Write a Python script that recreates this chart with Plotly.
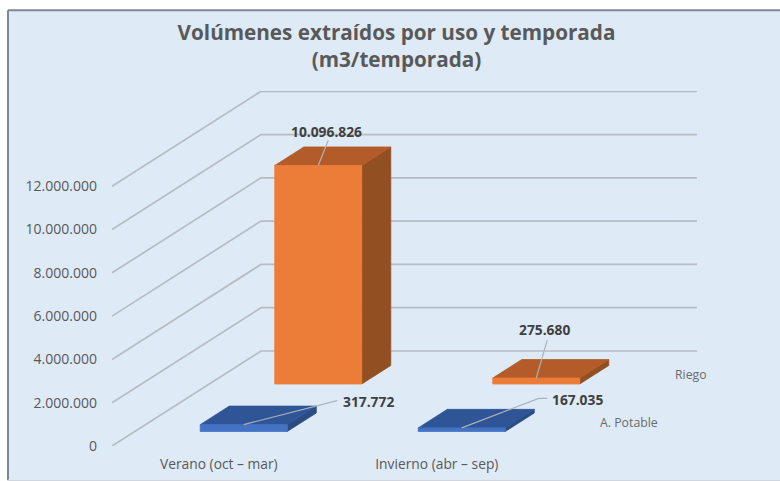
import plotly.graph_objects as go

# ---------- data ----------
categories = ["Verano (oct – mar)", "Invierno (abr – sep)"]
series_names = ["A. Potable", "Riego"]
potable_values = [317772, 167035]
riego_values = [10096826, 275680]
tick_values = [0, 2000000, 4000000, 6000000, 8000000, 10000000, 12000000]
tick_labels = ["0", "2.000.000", "4.000.000", "6.000.000", "8.000.000", "10.000.000", "12.000.000"]
value_labels_potable = ["317.772", "167.035"]
value_labels_riego = ["10.096.826", "275.680"]

# ---------- geometry / style ----------
W, H = 780, 481
PL, PR, PT, PB = 112, 697, 90.7, 445.7   # plot rectangle in pixels
CAT_PX = 218.0
PX_PER_VALUE = 259.7 / 12000000
DEPTH_PX_X, DEPTH_PX_Y = 149.0, 95.0
DEPTH_X = DEPTH_PX_X / CAT_PX
DEPTH_Y = DEPTH_PX_Y / PX_PER_VALUE
BAR_W = 87 / CAT_PX
BAR_D = 0.195
SERIES_CENTER = [0.25, 0.75]
BG = "#DEEAF6"
GRID = "#B6BDC2"
FACE = {"A. Potable": ("#4472C4", "#2F5597", "#2B4C82"),
        "Riego": ("#EB7D39", "#B45C29", "#925022")}


def proj(cat_x, depth, value):
    return cat_x + DEPTH_X * depth, value + DEPTH_Y * depth


def dx(px):
    return px / CAT_PX


def dy(px):
    return px / PX_PER_VALUE


fig = go.Figure()


def line(xs, ys, color=GRID, width=1.7):
    fig.add_trace(go.Scatter(x=xs, y=ys, mode="lines", hoverinfo="skip", showlegend=False,
                             line=dict(color=color, width=width)))


# gridlines: side wall and back wall
gx, gy = [], []
n_cats = len(categories)
for v in tick_values:
    x1, y1 = proj(0, 0, v)
    x2, y2 = proj(0, 1, v)
    x3, y3 = proj(n_cats, 1, v)
    gx += [x1, x2, x3, None]
    gy += [y1, y2, y3, None]
line(gx, gy)


def face(pts, color, edge=None):
    xs = [p[0] for p in pts] + [pts[0][0]]
    ys = [p[1] for p in pts] + [pts[0][1]]
    fig.add_trace(go.Scatter(x=xs, y=ys, mode="lines", fill="toself", fillcolor=color, hoverinfo="skip",
                             showlegend=False, line=dict(color=edge or color, width=0.8)))


def bar(cat, depth_c, value, colors):
    x0 = cat + 0.5 - BAR_W / 2
    x1 = x0 + BAR_W
    d0 = depth_c - BAR_D / 2
    d1 = depth_c + BAR_D / 2
    front, top, side = colors
    face([proj(x1, d0, 0), proj(x1, d1, 0), proj(x1, d1, value), proj(x1, d0, value)], side)
    face([proj(x0, d0, value), proj(x1, d0, value), proj(x1, d1, value), proj(x0, d1, value)], top)
    face([proj(x0, d0, 0), proj(x1, d0, 0), proj(x1, d0, value), proj(x0, d0, value)], front)


# back series first
for i, v in enumerate(riego_values):
    bar(i, SERIES_CENTER[1], v, FACE["Riego"])
for i, v in enumerate(potable_values):
    bar(i, SERIES_CENTER[0], v, FACE["A. Potable"])

annotations = []
LABEL_FONT = dict(family="Open Sans", size=13.8, color="#404040")


def anchor(i, s, value):
    return proj(i + 0.5, SERIES_CENTER[s] - BAR_D / 2, value)


def data_label(i, s, value, text, leader_px, text_px, xanchor):
    ax, ay = anchor(i, s, value)
    xs, ys = [ax], [ay]
    for px, py in leader_px:
        xs.append(ax + dx(px))
        ys.append(ay + dy(py))
    line(xs, ys, color="#ACB3B8", width=1.2)
    annotations.append(dict(x=ax + dx(text_px[0]), y=ay + dy(text_px[1]), xref="x", yref="y", text="<b>%s</b>" % text,
                            showarrow=False, xanchor=xanchor, yanchor="middle", font=LABEL_FONT))


data_label(0, 1, riego_values[0], value_labels_riego[0], [(10, 25)], (8.5, 34), "center")
data_label(1, 1, riego_values[1], value_labels_riego[1], [(11, 38)], (8.5, 49), "center")
data_label(0, 0, potable_values[0], value_labels_potable[0], [(72, 19), (93.5, 24)], (97.5, 23), "left")
data_label(1, 0, potable_values[1], value_labels_potable[1], [(77, 29.5), (85.5, 29.5)], (88.5, 28), "left")

# series (depth axis) labels
for s, name in enumerate(series_names):
    x, y = proj(n_cats, SERIES_CENTER[s], 0)
    annotations.append(dict(x=x, y=y, xref="x", yref="y", text=name, showarrow=False, xanchor="left", yanchor="middle",
                            xshift=13, yshift=0, font=dict(family="Open Sans", size=12.3, color="#6B6B6B")))

TICK_FONT = dict(family="Open Sans", size=14, color="#595959")


def px_x(p):
    return (p - PL) / (PR - PL)


def px_y(p):
    return (PB - p) / (PB - PT)


panel = dict(type="rect", xref="paper", yref="paper", layer="below",
             x0=px_x(8), x1=px_x(W + 10), y0=px_y(479), y1=px_y(10),
             fillcolor=BG, line=dict(width=0))
edges = [
    dict(type="line", xref="paper", yref="paper", layer="below",
         x0=px_x(8), x1=px_x(W + 10), y0=px_y(10), y1=px_y(10), line=dict(color="#7D8894", width=2)),
    dict(type="line", xref="paper", yref="paper", layer="below",
         x0=px_x(8), x1=px_x(8), y0=px_y(480), y1=px_y(10), line=dict(color="#7D8894", width=2)),
    dict(type="line", xref="paper", yref="paper", layer="below",
         x0=px_x(8), x1=px_x(W + 10), y0=px_y(480), y1=px_y(480), line=dict(color="#D0D6DB", width=1.5)),
]

fig.update_layout(
    width=W, height=H, autosize=False,
    margin=dict(l=PL, r=W - PR, t=PT, b=H - PB, pad=0),
    paper_bgcolor="white", plot_bgcolor="rgba(0,0,0,0)",
    showlegend=False, shapes=[panel] + edges, annotations=annotations,
    title=dict(text="<b>Volúmenes extraídos por uso y temporada<br>(m3/temporada)</b>",
               x=396.5 / W, xanchor="center", xref="container", y=1 - 40 / H, yanchor="top", yref="container",
               font=dict(family="Open Sans", size=20.7, color="#595959")),
    xaxis=dict(range=[0, n_cats + DEPTH_X], tickmode="array", tickvals=[0.49, 1.49], ticktext=categories,
               showgrid=False, zeroline=False, showline=False, ticks="", ticklabelstandoff=8, automargin=False,
               tickfont=dict(family="Open Sans", size=13.8, color="#595959"), fixedrange=True),
    yaxis=dict(range=[0, (PB - PT) / PX_PER_VALUE], tickmode="array", tickvals=tick_values, ticktext=tick_labels,
               showgrid=False, zeroline=False, showline=False, ticks="", ticklabelstandoff=14, automargin=False,
               tickfont=TICK_FONT, fixedrange=True),
)

fig.write_html("out.html", config={"displayModeBar": False},
               post_script="document.body.style.margin='0';")
